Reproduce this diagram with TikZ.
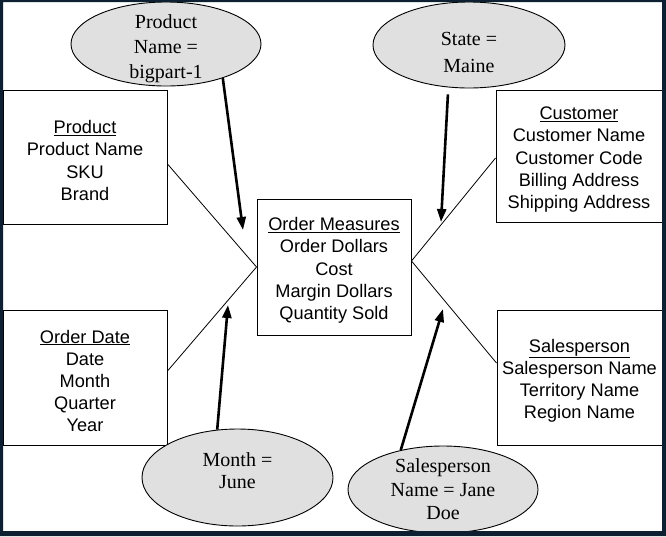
\documentclass[tikz,border=0pt]{standalone}
\usepackage{fontspec}
\setmainfont{Liberation Serif}
\setsansfont{Liberation Sans}
\usetikzlibrary{shapes.geometric,arrows.meta}
\definecolor{framebg}{RGB}{13,32,50}
\definecolor{filtergray}{RGB}{224,224,224}
\newcommand{\dimhead}[1]{\underline{#1}\rule{0pt}{20pt}}

\begin{document}
\begin{tikzpicture}[x=1pt,y=-1pt,
        dimbox/.style={draw,line width=1pt,inner sep=0pt,align=center,
            font=\sffamily\fontsize{18.2}{22.2}\selectfont},
        filter/.style={draw,ellipse,fill=filtergray,line width=0.9pt,inner sep=0pt},
        ftext/.style={align=center,font=\rmfamily\fontsize{20}{25}\selectfont},
        link/.style={line width=0.8pt},
        arr/.style={line width=2.6pt,-{Triangle[length=13pt,width=9pt]}}]
        \useasboundingbox (0,0) rectangle (666,536);
        \fill[white] (0,0) rectangle (666,536);
        % fact table and dimensions
        \node [dimbox,minimum width=154pt,minimum height=136pt] (fact) at (334,267)
            {\dimhead{Order Measures}\\Order Dollars\\Cost\\Margin Dollars\\Quantity Sold};
        \node [dimbox,minimum width=164pt,minimum height=134pt] (prod) at (85,157)
            {\dimhead{Product}\\Product Name\\SKU\\Brand};
        \node [dimbox,minimum width=164pt,minimum height=135pt] (date) at (85,377.5)
            {\dimhead{Order Date}\\Date\\Month\\Quarter\\Year};
        \node [dimbox,minimum width=166pt,minimum height=132pt] (cust) at (579,156)
            {\dimhead{Customer}\\Customer Name\\Customer Code\\Billing Address\\Shipping Address};
        \node [dimbox,minimum width=165pt,minimum height=135pt] (sales) at (579.5,377.5)
            {\dimhead{Salesperson}\\Salesperson Name\\Territory Name\\Region Name};
        \draw [link] ([yshift=-7pt]prod.east) -- (fact.west) -- ([yshift=6.5pt]date.east);
        \draw [link] ([yshift=-2pt]cust.west) -- ([yshift=6pt]fact.east) -- ([yshift=14.5pt]sales.west);
        % filters
        \node [filter,minimum width=190pt,minimum height=84pt] (pe) at (166,44) {};
        \node [ftext,yshift=-4.5pt] (pet) at (pe) {Product\\Name =\\bigpart-1};
        \node [filter,minimum width=192pt,minimum height=86pt] (se) at (469,45) {};
        \node [ftext,yshift=-7pt,font=\rmfamily\fontsize{20}{27}\selectfont] (set) at (se) {State =\\Maine};
        \node [filter,minimum width=191pt,minimum height=97pt] (me) at (237.5,477.5) {};
        \node [ftext,yshift=7pt,font=\rmfamily\fontsize{20}{22}\selectfont] (met) at (me) {Month =\\June};
        \node [filter,minimum width=190pt,minimum height=87pt] (spe) at (443,489.5) {};
        \node [ftext,font=\rmfamily\fontsize{20}{23.5}\selectfont] (spet) at (spe) {Salesperson\\Name = Jane\\Doe};
        \coordinate (t1) at (243,230);
        \coordinate (t2) at (441,222);
        \coordinate (t3) at (228,305);
        \coordinate (t4) at (443,309);
        \draw [arr] (pe.-31) -- (t1);
        \draw [arr,shorten <=7pt] (se.-116) -- (t2);
        \draw [arr] (me.113) -- (t3);
        \draw [arr] (spe.137) -- (t4);
        % frame
        \fill [framebg,even odd rule] (0,0) rectangle (666,536) (3,2) rectangle (662,531);
    \end{tikzpicture}
\end{document}
